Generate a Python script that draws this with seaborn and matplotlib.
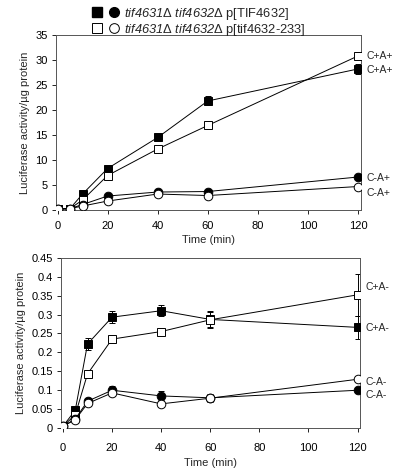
import matplotlib
matplotlib.use("Agg")
import matplotlib.pyplot as plt
import seaborn as sns
from matplotlib.lines import Line2D
from matplotlib.legend_handler import HandlerTuple
from matplotlib.ticker import FuncFormatter

time = [0, 5, 10, 20, 40, 60, 120]

# top panel (C+A+ / C-A+)
top_sq_filled = [0.2, 0.3, 3.2, 8.3, 14.5, 21.8, 28.2]
top_sq_filled_err = [0.1, 0.1, 0.3, 0.4, 0.4, 0.9, 1.0]
top_sq_open = [0.2, 0.3, 2.0, 6.9, 12.2, 16.9, 30.8]
top_sq_open_err = [0.1, 0.1, 0.2, 0.3, 0.3, 0.3, 0.5]
top_ci_filled = [0.2, 0.3, 1.1, 2.8, 3.6, 3.7, 6.6]
top_ci_filled_err = [0.1, 0.1, 0.1, 0.2, 0.3, 0.2, 0.3]
top_ci_open = [0.2, 0.3, 0.8, 1.8, 3.2, 2.9, 4.7]
top_ci_open_err = [0.1, 0.1, 0.1, 0.2, 0.2, 0.2, 0.3]
top_labels = ["C+A+", "C+A+", "C-A+", "C-A+"]
top_label_y = [30.7, 28.0, 6.4, 3.4]

# bottom panel (C+A- / C-A-)
bot_sq_filled = [0.005, 0.047, 0.222, 0.293, 0.31, 0.287, 0.266]
bot_sq_filled_err = [0.004, 0.006, 0.015, 0.015, 0.015, 0.02, 0.03]
bot_sq_open = [0.005, 0.035, 0.143, 0.235, 0.255, 0.286, 0.352]
bot_sq_open_err = [0.004, 0.005, 0.01, 0.01, 0.01, 0.022, 0.056]
bot_ci_filled = [0.005, 0.024, 0.071, 0.1, 0.085, 0.08, 0.1]
bot_ci_filled_err = [0.004, 0.005, 0.008, 0.012, 0.012, 0.01, 0.008]
bot_ci_open = [0.005, 0.022, 0.065, 0.093, 0.064, 0.079, 0.129]
bot_ci_open_err = [0.004, 0.004, 0.006, 0.008, 0.008, 0.008, 0.008]
bot_labels = ["C+A-", "C+A-", "C-A-", "C-A-"]
bot_label_y = [0.372, 0.265, 0.122, 0.088]

legend_labels = [r"$\mathit{tif4631}$Δ $\mathit{tif4632}$Δ p[TIF4632]",
                 r"$\mathit{tif4631}$Δ $\mathit{tif4632}$Δ p[tif4632-233]"]

sns.set_style("ticks")
plt.rcParams["font.family"] = ["Liberation Sans", "DejaVu Sans"]
plt.rcParams["mathtext.fontset"] = "custom"
# digits in \mathit fall back to rm, so make rm italic too
plt.rcParams["mathtext.rm"] = "Liberation Sans:italic"
plt.rcParams["mathtext.it"] = "Liberation Sans:italic"

fig = plt.figure(figsize=(4, 4.72), dpi=100)
ax1 = fig.add_axes([0.14, 0.555, 0.7625, 0.371])
ax2 = fig.add_axes([0.1525, 0.093, 0.7475, 0.361])


def draw(ax, vals, errs, marker, fill):
    ax.errorbar(time, vals, yerr=errs, fmt="none", ecolor="black",
                elinewidth=0.7, capsize=2, capthick=0.7, zorder=2)
    sns.lineplot(x=time, y=vals, ax=ax, color="black", lw=0.7,
                 marker=marker, markersize=6 if marker == "s" else 6.2,
                 markerfacecolor=fill, markeredgecolor="black",
                 markeredgewidth=0.7, zorder=3)


draw(ax1, top_sq_filled, top_sq_filled_err, "s", "black")
draw(ax1, top_sq_open, top_sq_open_err, "s", "white")
draw(ax1, top_ci_filled, top_ci_filled_err, "o", "black")
draw(ax1, top_ci_open, top_ci_open_err, "o", "white")

draw(ax2, bot_sq_filled, bot_sq_filled_err, "s", "black")
draw(ax2, bot_sq_open, bot_sq_open_err, "s", "white")
draw(ax2, bot_ci_filled, bot_ci_filled_err, "o", "black")
draw(ax2, bot_ci_open, bot_ci_open_err, "o", "white")

ax1.set_ylim(0, 35)
ax1.set_yticks(range(0, 36, 5))
ax1.set_xlim(-0.6, 121.2)
ax2.set_ylim(0, 0.45)
ax2.set_yticks([i * 0.05 for i in range(10)])
ax2.yaxis.set_major_formatter(FuncFormatter(lambda v, p: f"{v:.2f}".rstrip("0").rstrip(".")))
ax2.set_xlim(-0.8, 121.0)

for ax, labels, ly, xpad in [(ax1, top_labels, top_label_y, 5), (ax2, bot_labels, bot_label_y, 8)]:
    ax.set_xticks(range(0, 121, 20))
    ax.set_xlabel("Time (min)", fontsize=8, labelpad=3)
    ax.set_ylabel("Luciferase activity/µg protein", fontsize=8, labelpad=4)
    ax.tick_params(labelsize=8, length=3, width=0.6, pad=3, colors="black")
    ax.tick_params(axis="x", pad=xpad)
    for s in ax.spines.values():
        s.set_visible(True)
        s.set_linewidth(0.7)
        s.set_color("#555555")
    for lab, y in zip(labels, ly):
        ax.annotate(lab, xy=(120, y), xytext=(6, 0), textcoords="offset points",
                    fontsize=7.5, va="center", ha="left", annotation_clip=False)

h1 = (Line2D([], [], marker="s", ls="none", color="black", markersize=7),
      Line2D([], [], marker="o", ls="none", color="black", markersize=7))
h2 = (Line2D([], [], marker="s", ls="none", markerfacecolor="white",
             markeredgecolor="black", markersize=7, markeredgewidth=0.7),
      Line2D([], [], marker="o", ls="none", markerfacecolor="white",
             markeredgecolor="black", markersize=7, markeredgewidth=0.7))
fig.legend([h1, h2], legend_labels, handler_map={tuple: HandlerTuple(ndivide=None, pad=0.6)},
           loc="upper left", bbox_to_anchor=(0.203, 1.012), frameon=False,
           fontsize=9.3, handlelength=2.0, handletextpad=0.4, labelspacing=0.0)

fig.savefig("out.png", dpi=100)
